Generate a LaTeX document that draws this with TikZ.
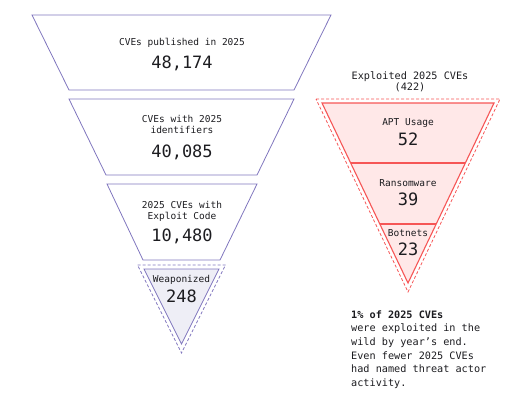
\documentclass[tikz,border=0pt]{standalone}
\usepackage{fontspec}
\setmainfont{DejaVu Sans Mono}
\definecolor{funnel}{RGB}{128,118,190}
\definecolor{weapfill}{RGB}{238,238,246}
\definecolor{expline}{RGB}{246,86,86}
\definecolor{expfill}{RGB}{255,232,232}
\definecolor{ink}{RGB}{28,28,32}
\begin{document}
\begin{tikzpicture}[x=1pt,y=-1pt,
	lab/.style={anchor=base,align=center,font=\fontsize{9.5}{11}\selectfont,text=ink},
	num/.style={anchor=base,font=\fontsize{17}{20}\selectfont,text=ink},
	outline/.style={line width=0.8pt,dash pattern=on 3pt off 2pt}]
	\useasboundingbox (0,0) rectangle (526,397);
	% funnel of all CVEs
	\draw[funnel,line width=0.8pt] (32,15)--(331,15)--(294,90)--(69,90)--cycle;
	\draw[funnel,line width=0.8pt] (69,99)--(294,99)--(257,175)--(106,175)--cycle;
	\draw[funnel,line width=0.8pt] (107,184)--(257,184)--(220,260)--(143,260)--cycle;
	\draw[funnel,line width=0.8pt,fill=weapfill] (144,269)--(219,269)--(181.5,344)--cycle;
	\draw[funnel,outline] (137.5,265)--(225.5,265)--(181.5,353)--cycle;
	\node[lab] (pub) at (182,45.5) {CVEs published in 2025};
	\node[num] (pubn) at (182,68) {48,174};
	\node[lab] (ids) at (182,133.5) {CVEs with 2025\\identifiers};
	\node[num] (idsn) at (182,157) {40,085};
	\node[lab] (expl) at (182,219) {2025 CVEs with\\Exploit Code};
	\node[num] (expln) at (182,241) {10,480};
	\node[lab] (weap) at (181.5,282.5) {Weaponized};
	\node[num] (weapn) at (181.5,302) {248};
	% exploited CVEs
	\node[lab,font=\fontsize{10.2}{11}\selectfont] (title) at (410,90.5) {Exploited 2025 CVEs\\(422)};
	\draw[expline,line width=1.1pt,fill=expfill] (322,103)--(494,103)--(408,283)--cycle;
	\draw[expline,outline] (316,99)--(500,99)--(408,292)--cycle;
	\draw[expline,line width=1.1pt] (351.3,163)--(464.7,163);
	\draw[expline,line width=1.1pt] (379.8,224)--(436.2,224);
	\node[lab] (apt) at (408,125.5) {APT Usage};
	\node[num] (aptn) at (408,145) {52};
	\node[lab] (ransom) at (408,186.5) {Ransomware};
	\node[num] (ransomn) at (408,205) {39};
	\node[lab] (bot) at (408,236.5) {Botnets};
	\node[num] (botn) at (408,255) {23};
	% note
	\node[anchor=base west,align=left,inner sep=0pt,text=ink,font=\fontsize{10.2}{13.7}\selectfont] (note) at (351,386.5)
		{\textbf{1\% of 2025 CVEs}\\were exploited in the\\wild by year\symbol{39}s end.\\Even fewer 2025 CVEs\\had named threat actor\\activity.};
\end{tikzpicture}
\end{document}
